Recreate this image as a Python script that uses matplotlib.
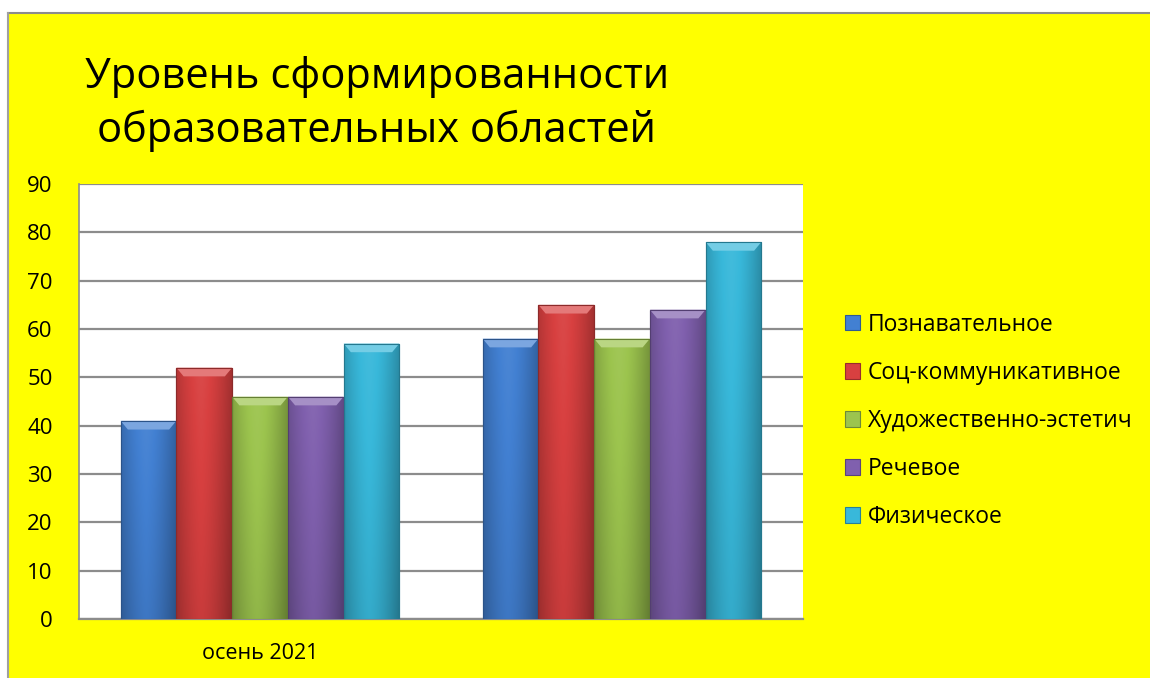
import matplotlib
matplotlib.use("Agg")
import matplotlib.pyplot as plt
import numpy as np
from matplotlib.patches import Rectangle, Polygon
from matplotlib.lines import Line2D
from matplotlib.colors import to_rgb

plt.rcParams['font.family'] = ['Open Sans', 'DejaVu Sans']

title = "Уровень сформированности\nобразовательных областей"
categories = ["осень 2021", ""]
series = ["Познавательное", "Соц-коммуникативное", "Художественно-эстетич", "Речевое", "Физическое"]
values = {
    "Познавательное": [41, 58],
    "Соц-коммуникативное": [52, 65],
    "Художественно-эстетич": [46, 58],
    "Речевое": [46, 64],
    "Физическое": [57, 78],
}
colors = ["#4280D2", "#D84040", "#9CC44E", "#8060AE", "#38B8DA"]
yticks = list(range(0, 91, 10))

W, H = 1150, 678
fig = plt.figure(figsize=(W / 100, H / 100), dpi=100)
fig.patch.set_facecolor("white")

# yellow chart area with gray border
bg = Rectangle((8 / W, 0), 1 - 8 / W, 1 - 13 / H, transform=fig.transFigure,
               facecolor="#FFFF00", edgecolor="none", zorder=-10)
fig.add_artist(bg)
fig.add_artist(Line2D([8 / W, 1], [1 - 13 / H, 1 - 13 / H], transform=fig.transFigure, color="#8C8C8C", lw=1.5, zorder=-9))
fig.add_artist(Line2D([8 / W, 8 / W], [0, 1 - 13 / H], transform=fig.transFigure, color="#A0A0A0", lw=1.5, zorder=-9))

ax = fig.add_axes([79 / W, (H - 619) / H, (803 - 79) / W, (619 - 184) / H])
ax.set_facecolor("white")
ax.set_zorder(1)

n = len(series)
group_w = 0.77
bw = group_w / n
x = np.arange(len(categories))

def shade(c, f):
    r = np.array(to_rgb(c))
    f = float(np.clip(f, -1, 1))
    if f >= 0:
        return tuple(r + (1 - r) * f)
    return tuple(r * (1 + f))

for i, (s, c) in enumerate(zip(series, colors)):
    xs = x - group_w / 2 + bw * (i + 0.5)
    bars = ax.bar(xs, values[s], width=bw, color=c, edgecolor=shade(c, -0.3), linewidth=0.8,
                  label=s, zorder=3)
    for b in bars:
        x0, y0 = b.get_x(), b.get_y()
        w, h = b.get_width(), b.get_height()
        t = np.linspace(0, 1, 64)
        prof = -0.25 * (np.abs(t - 0.45) * 2) ** 1.5 + 0.05
        vert = np.linspace(-0.12, 0.0, 32)
        img = np.zeros((32, 64, 3))
        for yi in range(32):
            for xi in range(64):
                img[yi, xi] = shade(c, prof[xi] + vert[yi])
        im = ax.imshow(img, extent=[x0, x0 + w, y0, y0 + h], origin="lower", aspect="auto", zorder=3.1,
                       interpolation="bilinear")
        im.set_clip_path(b)
        dx = w * 0.13
        dy = 1.8
        top = Polygon([[x0, y0 + h], [x0 + w, y0 + h], [x0 + w - dx, y0 + h - dy], [x0 + dx, y0 + h - dy]],
                      closed=True, facecolor=shade(c, 0.3), edgecolor="none", zorder=3.2)
        ax.add_patch(top)
        ax.add_patch(Rectangle((x0, y0), w, h, facecolor="none", edgecolor=shade(c, -0.35), lw=0.8, zorder=3.3))

ax.set_xlim(-0.5, len(categories) - 0.5)
ax.set_ylim(0, 90)
ax.set_yticks(yticks)
ax.set_xticks(x)
ax.set_xticklabels(categories)
ax.yaxis.grid(True, color="#8C8C8C", lw=1.6, zorder=1)
ax.set_axisbelow(True)
for sp in ["top", "right"]:
    ax.spines[sp].set_visible(False)
ax.spines["left"].set_color("#8C8C8C")
ax.spines["bottom"].set_color("#8C8C8C")
ax.spines["left"].set_linewidth(1.2)
ax.spines["bottom"].set_linewidth(1.6)
ax.tick_params(axis="y", length=0, pad=19, labelsize=16)
ax.tick_params(axis="x", length=0, pad=17, labelsize=15.5)

fig.text(377 / W, 1 - 104 / H, title, ha="center", va="center", fontsize=30, linespacing=1.35)

leg = ax.legend(loc="center left", bbox_to_anchor=(836 / W, (H - 421) / H), bbox_transform=fig.transFigure,
                frameon=False, fontsize=16.5, handlelength=0.65, handleheight=0.65, handletextpad=0.35,
                labelspacing=1.05, borderaxespad=0)

fig.savefig("out.png", dpi=100, facecolor=fig.get_facecolor())
